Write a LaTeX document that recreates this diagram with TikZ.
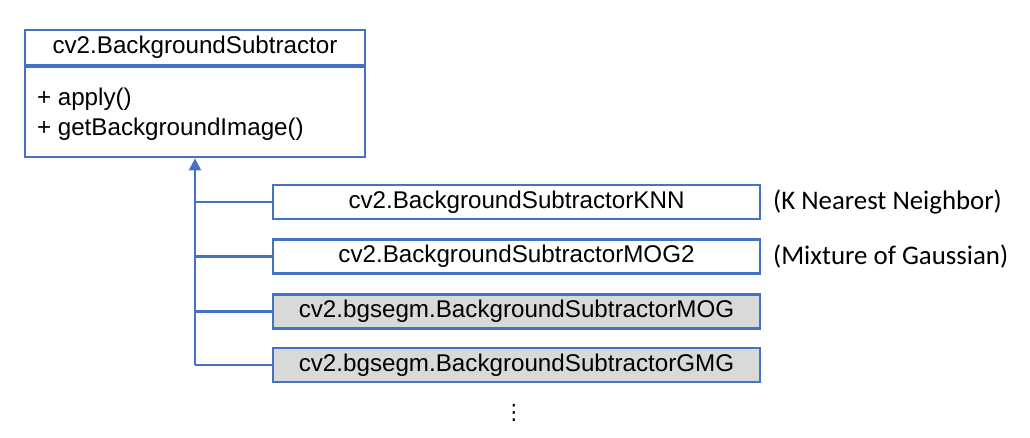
\documentclass[tikz,border=0pt]{standalone}
\usepackage{fontspec}
\setmainfont{Liberation Sans}
\newfontfamily\notefont{Carlito}
\newfontfamily\symfont{DejaVu Sans}
\usepackage{tikz}
\usetikzlibrary{arrows.meta}
\usetikzlibrary{positioning}

\definecolor{umlblue}{HTML}{4472C4}
\definecolor{umlgray}{HTML}{D9D9D9}

\begin{document}
\begin{tikzpicture}[line width=1.6pt,
    cls/.style={draw=umlblue,fill=white,minimum width=12.175cm,minimum height=0.85cm,inner sep=0pt,font=\fontsize{17.2}{20}\selectfont},
    ext/.style={cls,fill=umlgray},
    note/.style={font=\notefont\fontsize{19.1}{22}\selectfont,inner sep=0pt,anchor=west}]
    \useasboundingbox (0,0) rectangle (25.75,10.95);

    % base class
    \node[draw=umlblue,minimum width=8.5cm,minimum height=0.875cm,inner sep=0pt,font=\fontsize{17.2}{20}\selectfont] (base) at (4.875,9.7625) {cv2.BackgroundSubtractor};
    \node[draw=umlblue,minimum width=8.5cm,minimum height=2.25cm,inner sep=0pt,below=0pt of base] (body) {};
    \node[anchor=west,align=left,inner sep=0pt,font=\fontsize{17.2}{22}\selectfont] (ops) at ([xshift=0.3cm,yshift=-0.05cm]body.west) {+ apply()\\+ getBackgroundImage()};

    % subclasses
    \node[cls] (knn) at (12.9125,5.9) {cv2.BackgroundSubtractorKNN};
    \node[cls] (mog2) at (12.9125,4.5375) {cv2.BackgroundSubtractorMOG2};
    \node[ext] (mog) at (12.9125,3.1625) {cv2.bgsegm.BackgroundSubtractorMOG};
    \node[ext] (gmg) at (12.9125,1.825) {cv2.bgsegm.BackgroundSubtractorGMG};

    \node[note] (knnnote) at (19.3,5.9) {(K Nearest Neighbor)};
    \node[note] (mog2note) at (19.3,4.5375) {(Mixture of Gaussian)};

    \node[font=\symfont\fontsize{15}{15}\selectfont,inner sep=0pt] (more) at (12.85,0.62) {⋮};

    % inheritance
    \coordinate (trunk) at (gmg.west -| body.south);
    \draw[umlblue,-{Triangle[width=0.3cm,length=0.3cm]}] (trunk) -- (body.south);
    \draw[umlblue] (knn.west) -- (knn.west -| trunk);
    \draw[umlblue] (mog2.west) -- (mog2.west -| trunk);
    \draw[umlblue] (mog.west) -- (mog.west -| trunk);
    \draw[umlblue] (gmg.west) -- (trunk);
\end{tikzpicture}
\end{document}
